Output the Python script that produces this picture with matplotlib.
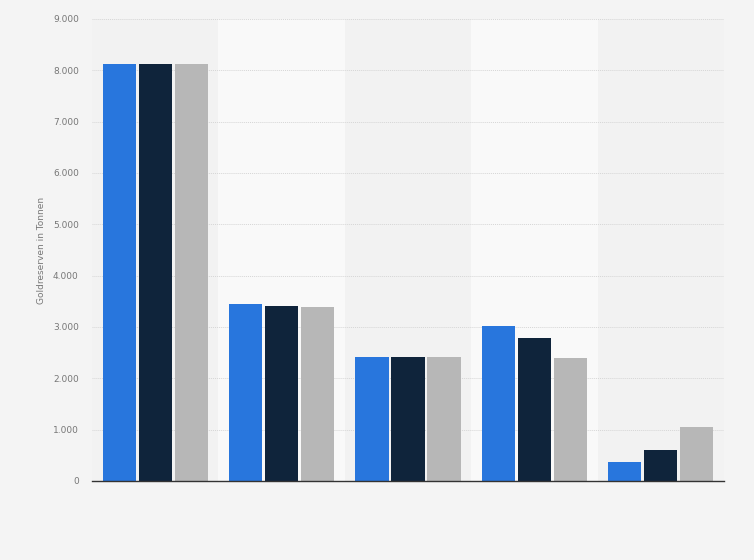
import matplotlib
matplotlib.use("Agg")
import matplotlib.pyplot as plt
import numpy as np

categories = ["Gruppe 1", "Gruppe 2", "Gruppe 3", "Gruppe 4", "Gruppe 5"]
series_a = [8130, 3440, 2425, 3010, 375]
series_b = [8130, 3400, 2425, 2790, 600]
series_c = [8130, 3380, 2425, 2400, 1045]
yticks = [0, 1000, 2000, 3000, 4000, 5000, 6000, 7000, 8000, 9000]
ytick_labels = ["0", "1.000", "2.000", "3.000", "4.000", "5.000", "6.000", "7.000", "8.000", "9.000"]

colors = ["#2876dd", "#0f243b", "#b7b7b7"]

fig = plt.figure(figsize=(7.54, 5.6), dpi=100)
fig.patch.set_facecolor("#f4f4f4")
ax = fig.add_axes([92/754, 1 - 481/560, 632/754, 462/560])
ax.set_facecolor("#f2f2f2")

x = np.arange(len(categories))
w = 0.262
step = 0.285
for i in range(len(categories)):
    if i % 2 == 1:
        ax.axvspan(i - 0.5, i + 0.5, color="#f9f9f9", zorder=0, lw=0)

for k, (vals, c) in enumerate(zip([series_a, series_b, series_c], colors)):
    ax.bar(x + (k - 1) * step, vals, width=w, color=c, zorder=3, edgecolor="none")

ax.set_xlim(-0.5, len(categories) - 0.5)
ax.set_ylim(0, 9000)
ax.set_yticks(yticks)
ax.set_yticklabels(ytick_labels, fontsize=6.5, color="#777777")
ax.set_xticks([])
ax.tick_params(axis="y", length=0, pad=9.5)
ax.grid(axis="y", color="#d6d6d6", linestyle=(0, (1, 1)), linewidth=0.7, zorder=1)
for s in ["top", "right", "left"]:
    ax.spines[s].set_visible(False)
ax.spines["bottom"].set_color("#333333")
ax.spines["bottom"].set_linewidth(1.0)
ax.spines["bottom"].set_zorder(4)
ax.set_ylabel("Goldreserven in Tonnen", fontsize=6.5, color="#777777", labelpad=5)

fig.savefig("out.png", dpi=100, facecolor=fig.get_facecolor())
